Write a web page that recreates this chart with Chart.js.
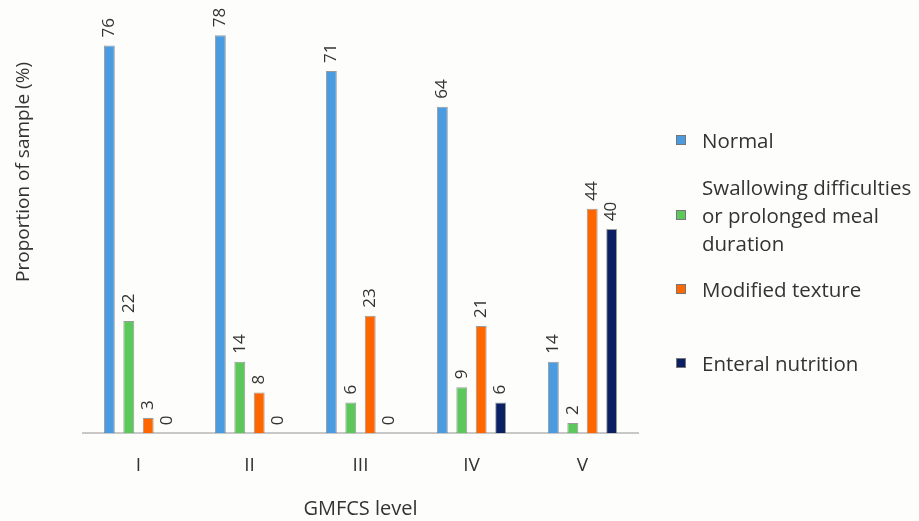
<!DOCTYPE html>
<html>
<head>
<meta charset="utf-8">
<script src="https://cdn.jsdelivr.net/npm/chart.js@4"></script>
<style>
  body { margin: 0; background: #fdfdfb; }
  #wrap { position: relative; width: 919px; height: 521px; }
  #legend { position: absolute; left: 676px; top: 0; font-family: "Open Sans", sans-serif; font-size: 20.5px; color: #333; }
  .item { position: absolute; left: 0; display: flex; align-items: center; white-space: nowrap; line-height: 28px; }
  .box { width: 8px; height: 8px; border: 1px solid #777; margin-right: 16px; flex: none; }
</style>
</head>
<body>
<div id="wrap">
  <canvas id="chart" width="919" height="521"></canvas>
  <div id="legend"></div>
</div>
<script>
// Datos
const niveles = ["I", "II", "III", "IV", "V"];
const normal = [76, 78, 71, 64, 14];
const deglucion = [22, 14, 6, 9, 2];
const texturaModificada = [3, 8, 23, 21, 44];
const enteral = [0, 0, 0, 6, 40];

const series = [
  { label: "Normal", data: normal, color: "#4a9be0" },
  { label: "Swallowing difficulties\nor prolonged meal\nduration", data: deglucion, color: "#5cc85c" },
  { label: "Modified texture", data: texturaModificada, color: "#ff6600" },
  { label: "Enteral nutrition", data: enteral, color: "#0b1f63" }
];
const tituloY = "Proportion of sample (%)";

// Etiquetas rotadas sobre las barras y título del eje Y
const etiquetas = {
  id: "etiquetas",
  afterDatasetsDraw(chart) {
    const ctx = chart.ctx;
    const area = chart.chartArea;
    ctx.save();
    ctx.font = "17px 'Open Sans', sans-serif";
    ctx.fillStyle = "#333";
    ctx.textAlign = "left";
    ctx.textBaseline = "middle";
    chart.data.datasets.forEach((ds, i) => {
      chart.getDatasetMeta(i).data.forEach((bar, j) => {
        ctx.save();
        ctx.translate(bar.x, bar.y - 8);
        ctx.rotate(-Math.PI / 2);
        ctx.fillText(String(ds.data[j]), 0, 0);
        ctx.restore();
      });
    });
    // título Y
    ctx.font = "19px 'Open Sans', sans-serif";
    ctx.textAlign = "center";
    ctx.translate(24, area.top + (area.bottom - area.top) * 0.36);
    ctx.rotate(-Math.PI / 2);
    ctx.fillText(tituloY, 0, 0);
    ctx.restore();
  }
};

const ctx = document.getElementById("chart").getContext("2d");
const chart = new Chart(ctx, {
  type: "bar",
  data: {
    labels: niveles,
    datasets: series.map(s => ({
      label: s.label,
      data: s.data,
      backgroundColor: s.color,
      borderColor: "rgba(90,90,90,0.6)",
      borderWidth: 1,
      categoryPercentage: 0.7,
      barPercentage: 0.56
    }))
  },
  options: {
    responsive: false,
    animation: false,
    layout: { padding: { left: 83, right: 281, top: 25, bottom: 0 } },
    plugins: { legend: { display: false }, tooltip: { enabled: false } },
    scales: {
      x: {
        grid: { display: false },
        border: { color: "#c8c8c8", width: 2 },
        ticks: { color: "#333", padding: 13, font: { family: "'Open Sans', sans-serif", size: 19 } },
        title: { display: true, text: "GMFCS level", color: "#333", padding: { top: 7, bottom: 0 }, font: { family: "'Open Sans', sans-serif", size: 20 } }
      },
      y: {
        display: false,
        min: 0,
        max: 80
      }
    }
  },
  plugins: [etiquetas]
});

// Leyenda
const leyenda = document.getElementById("legend");
const posiciones = [140, 215, 289, 363];
series.forEach((s, i) => {
  const item = document.createElement("div");
  item.className = "item";
  const lineas = s.label.split("\n");
  item.style.top = (posiciones[i] - lineas.length * 14) + "px";
  item.innerHTML = '<span class="box" style="background:' + s.color + '"></span><span>' + lineas.join("<br>") + "</span>";
  leyenda.appendChild(item);
});
</script>
</body>
</html>
